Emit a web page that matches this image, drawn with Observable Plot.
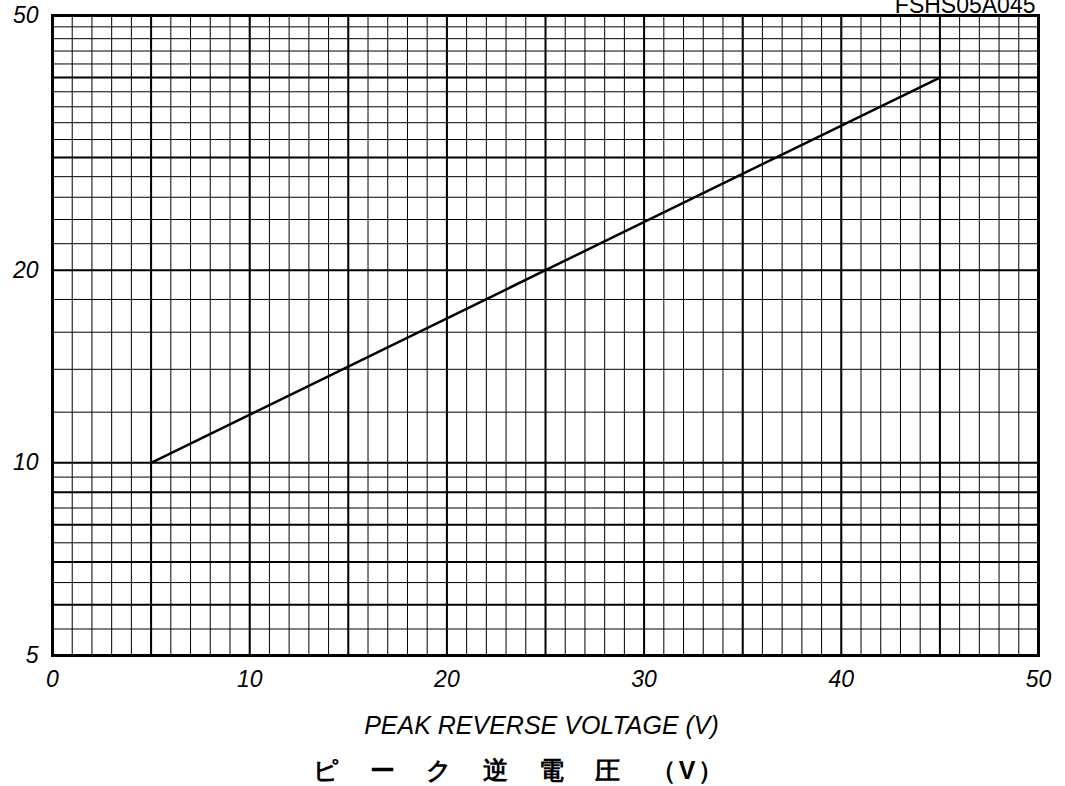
<!DOCTYPE html>
<html>
<head>
<meta charset="utf-8">
<script src="https://cdn.jsdelivr.net/npm/d3@7"></script>
<script src="https://cdn.jsdelivr.net/npm/@observablehq/plot@0.6"></script>
<style>
  html, body { margin: 0; padding: 0; background: #fff; }
  svg text { font-family: "Liberation Sans", Arial, sans-serif; }
</style>
</head>
<body>
<div id="chart"></div>
<script>
// ---- data ----
const voltage = [5, 25, 45];          // peak reverse voltage (V)
const capacitance = [10, 20, 40];     // y values (log scale)
const xTickLabels = [0, 10, 20, 30, 40, 50];
const yTickLabels = [5, 10, 20, 50];
const xMajorGrid = [5, 10, 15, 20, 25, 30, 35, 40, 45];
const xMinorGrid = d3.range(1, 50, 1);
const yMajorGrid = [6, 7, 8, 9, 10, 20, 30, 40];
const yMinorGrid = [5.5, 6.5, 7.5, 8.5, 9.5, 12, 14, 16, 18, 22, 24, 26, 28, 32, 34, 36, 38, 42, 44, 46, 48];
const titleText = "FSHS05A045";
const xLabelEn = "PEAK REVERSE VOLTAGE (V)";
const xLabelJa = "ピ　ー　ク　逆　電　圧　（V）";

const points = voltage.map((v, i) => ({x: v, y: capacitance[i]}));

const chart = Plot.plot({
  width: 1065,
  height: 786,
  marginLeft: 52,
  marginRight: 27,
  marginTop: 15,
  marginBottom: 131,
  x: {domain: [0, 50]},
  y: {type: "log", domain: [5, 50]},
  marks: [
    Plot.ruleX(xMinorGrid, {stroke: "#000", strokeWidth: 1}),
    Plot.ruleY(yMinorGrid, {stroke: "#000", strokeWidth: 1}),
    Plot.ruleX(xMajorGrid, {stroke: "#000", strokeWidth: 2}),
    Plot.ruleY(yMajorGrid, {stroke: "#000", strokeWidth: 2}),
    Plot.frame({stroke: "#000", strokeWidth: 3}),
    Plot.line(points, {x: "x", y: "y", stroke: "#000", strokeWidth: 2.5}),
    Plot.axisX(xTickLabels, {tickSize: 0, tickPadding: 15, fontSize: 23, fontStyle: "italic", label: null, fill: "#000"}),
    Plot.axisY(yTickLabels, {tickSize: 0, tickPadding: 14, fontSize: 23, fontStyle: "italic", label: null, tickFormat: d => String(d), fill: "#000"}),
    Plot.text([titleText], {frameAnchor: "top-right", textAnchor: "end", lineAnchor: "middle", dy: -10, dx: -3, fontSize: 23, fill: "#000"}),
    Plot.text([xLabelEn], {frameAnchor: "bottom", lineAnchor: "middle", dy: 70, dx: -4, fontSize: 25, fontStyle: "italic", fill: "#000"}),
    Plot.text([xLabelJa], {frameAnchor: "bottom", lineAnchor: "middle", dy: 115, dx: -26, fontSize: 25, fontWeight: "bold", fontFamily: "'Noto Sans CJK JP', sans-serif", fill: "#000"})
  ]
});
document.getElementById("chart").appendChild(chart);
// letter spacing for the Japanese label
chart.querySelectorAll("text").forEach(t => {
  if (t.textContent === xLabelJa) t.style.letterSpacing = "3px";
});
</script>
</body>
</html>
